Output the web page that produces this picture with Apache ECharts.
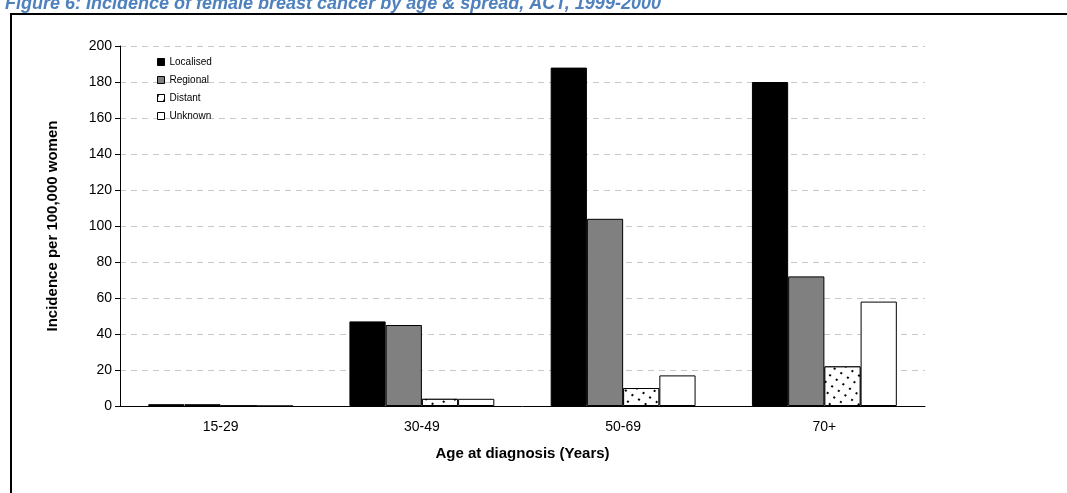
<!doctype html>
<html>
<head>
<meta charset="utf-8">
<style>
html,body{margin:0;padding:0;background:#fff;}
#frame{position:absolute;left:10px;top:13px;width:1080px;height:500px;border:2px solid #000;box-sizing:border-box;}
#chart{position:absolute;left:0;top:0;width:1067px;height:493px;}
</style>
<script src="https://cdn.jsdelivr.net/npm/echarts@6/dist/echarts.min.js"></script>
</head>
<body>
<div id="frame"></div>
<div id="chart"></div>
<script>
var ages = ['15-29', '30-49', '50-69', '70+'];
var localised = [1, 47, 188, 180];
var regional = [1, 45, 104, 72];
var distant = [0, 4, 10, 22];
var unknown = [0, 4, 17, 58];

var chart = echarts.init(document.getElementById('chart'));
var edge = {borderColor: '#000', borderWidth: 1};
chart.setOption({
    animation: false,
    title: {
        text: 'Figure 6: Incidence of female breast cancer by age & spread, ACT, 1999-2000',
        left: 0, top: -10,
        textStyle: {color: '#4f81bd', fontSize: 18, fontWeight: 'bold', fontStyle: 'italic', fontFamily: 'Liberation Sans'}
    },
    legend: {
        orient: 'vertical', left: 152, top: 52, itemWidth: 7, itemHeight: 7, itemGap: 8, icon: 'rect',
        itemStyle: {borderColor: '#000', borderWidth: 1},
        textStyle: {fontSize: 10, fontFamily: 'Liberation Sans', color: '#000'},
        data: ['Localised', 'Regional', 'Distant', 'Unknown']
    },
    grid: {left: 120, right: 142, top: 46, bottom: 87},
    xAxis: {
        type: 'category', data: ages,
        name: 'Age at diagnosis (Years)', nameLocation: 'middle', nameGap: 40,
        nameTextStyle: {fontSize: 15, fontWeight: 'bold', fontFamily: 'Liberation Sans', color: '#000'},
        axisLine: {lineStyle: {color: '#000'}},
        axisTick: {lineStyle: {color: '#000'}, length: 6},
        axisLabel: {fontSize: 14, color: '#000', margin: 14, fontFamily: 'Liberation Sans'}
    },
    yAxis: {
        type: 'value', min: 0, max: 200, interval: 20,
        name: 'Incidence per 100,000 women', nameLocation: 'middle', nameGap: 60,
        nameTextStyle: {fontSize: 15, fontWeight: 'bold', fontFamily: 'Liberation Sans', color: '#000'},
        axisLine: {show: true, lineStyle: {color: '#000'}},
        axisTick: {show: true, lineStyle: {color: '#000'}, length: 5},
        axisLabel: {fontSize: 14, color: '#000', fontFamily: 'Liberation Sans'},
        splitLine: {lineStyle: {color: '#c8c8c8', type: [6, 5]}}
    },
    series: [
        {name: 'Localised', type: 'bar', data: localised, barGap: '0%', barCategoryGap: '28%',
         itemStyle: Object.assign({color: '#000'}, edge)},
        {name: 'Regional', type: 'bar', data: regional,
         itemStyle: Object.assign({color: '#808080'}, edge)},
        {name: 'Distant', type: 'bar', data: distant,
         itemStyle: Object.assign({color: '#fff', decal: {symbol: 'rect', symbolSize: 1, color: '#000', backgroundColor: '#fff', dashArrayX: [[2, 6]], dashArrayY: [2, 6], rotation: 0.6}}, edge)},
        {name: 'Unknown', type: 'bar', data: unknown,
         itemStyle: Object.assign({color: '#fff'}, edge)}
    ]
});
</script>
</body>
</html>
